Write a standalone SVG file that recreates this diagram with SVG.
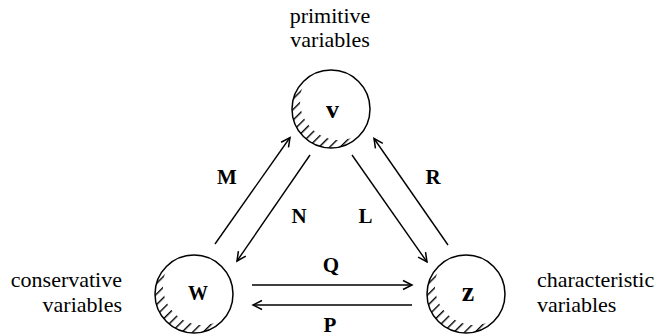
<svg xmlns="http://www.w3.org/2000/svg" width="658" height="336" viewBox="0 0 658 336">
<style>
.lbl{font-family:"Liberation Serif","Times New Roman",Times,"DejaVu Serif",serif;font-size:22px;fill:#000}
.b{font-family:"Liberation Serif","Times New Roman",Times,"DejaVu Serif",serif;font-weight:bold;fill:#000}
.ring{fill:none;stroke:#000;stroke-width:1.5}
.edge{fill:none;stroke:#000;stroke-width:1.4}
</style>
<defs>
<pattern id="hatch" patternUnits="userSpaceOnUse" width="7.5" height="7.5" patternTransform="rotate(-45)">
<line x1="0" y1="3.5" x2="7.5" y2="3.5" stroke="#000" stroke-width="1.4"/>
</pattern>
<path id="crescent" d="M-23.29,-31.29 A39,39 0 1 0 31.29,23.29 A39,39 0 0 1 -23.29,-31.29 Z" fill="url(#hatch)"/>
<marker id="ah" markerUnits="userSpaceOnUse" orient="auto" overflow="visible" refX="0" refY="0" markerWidth="20" markerHeight="20">
<path d="M-9,-4.5 L0,0 L-9,4.5" fill="none" stroke="#000" stroke-width="1.5"/>
</marker>
</defs>
<rect width="658" height="336" fill="#fff"/>
<g id="node-v">
<use href="#crescent" transform="translate(331,109)"/>
<circle class="ring" cx="331" cy="109" r="39"/>
<text class="b" x="332.5" y="118" font-size="26" text-anchor="middle">v</text>
<text class="lbl" x="330" y="23" text-anchor="middle">primitive</text>
<text class="lbl" x="330" y="47" text-anchor="middle">variables</text>
</g>
<g id="node-w">
<use href="#crescent" transform="translate(194,294)"/>
<circle class="ring" cx="194" cy="294" r="39"/>
<text class="b" x="198" y="300" font-size="20" text-anchor="middle">W</text>
<text class="lbl" x="122" y="287" text-anchor="end">conservative</text>
<text class="lbl" x="122" y="311.5" text-anchor="end">variables</text>
</g>
<g id="node-z">
<use href="#crescent" transform="translate(466,294)"/>
<circle class="ring" cx="466" cy="294" r="39"/>
<text class="b" x="468" y="300.5" font-size="28" text-anchor="middle">z</text>
<text class="lbl" x="537" y="287">characteristic</text>
<text class="lbl" x="537" y="311.5">variables</text>
</g>
<g id="connectors">
<line class="edge" x1="215" y1="244" x2="290" y2="137.5" marker-end="url(#ah)"/>
<line class="edge" x1="310" y1="155" x2="237" y2="261" marker-end="url(#ah)"/>
<line class="edge" x1="352" y1="155" x2="427" y2="262" marker-end="url(#ah)"/>
<line class="edge" x1="448" y1="245" x2="374" y2="138.5" marker-end="url(#ah)"/>
<line class="edge" x1="252" y1="285" x2="412" y2="285" marker-end="url(#ah)"/>
<line class="edge" x1="412" y1="305" x2="253" y2="305" marker-end="url(#ah)"/>
<text class="b" x="227" y="184" font-size="21" text-anchor="middle">M</text>
<text class="b" x="299" y="222.5" font-size="21" text-anchor="middle">N</text>
<text class="b" x="365.5" y="222.5" font-size="21" text-anchor="middle">L</text>
<text class="b" x="433" y="184" font-size="21" text-anchor="middle">R</text>
<text class="b" x="331" y="271.5" font-size="21" text-anchor="middle">Q</text>
<text class="b" x="330" y="332" font-size="21" text-anchor="middle">P</text>
</g>
</svg>
